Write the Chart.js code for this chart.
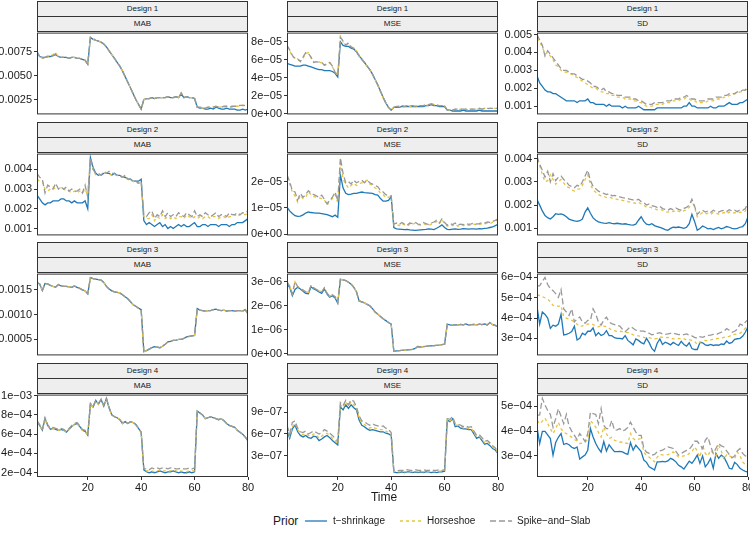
<!DOCTYPE html>
<html>
<head>
<meta charset="utf-8">
<script src="https://cdn.jsdelivr.net/npm/chart.js@4.4.1/dist/chart.umd.min.js"></script>
<style>
  body { margin: 0; width: 750px; height: 539px; position: relative; overflow: hidden; background: #fff;
         font-family: "Liberation Sans", Arial, sans-serif; }
  .strip { position: absolute; box-sizing: border-box; background: #EEEEEE; border: 1px solid #333;
           color: #1a1a1a; font-size: 8px; text-align: center; }
  canvas { position: absolute; }
  .txt { position: absolute; color: #1a1a1a; white-space: nowrap; }
</style>
</head>
<body>
<script>
// x values and labels
const time = Array.from({ length: 80 }, (_, i) => i + 1);
const xTicks = [20, 40, 60, 80];
const priors = ['t−shrinkage', 'Horseshoe', 'Spike−and−Slab'];
const designs = ['Design 1', 'Design 2', 'Design 3', 'Design 4'];
const metrics = ['MAB', 'MSE', 'SD'];

// ---- Design 1 ----
// MAB, units of 1e-4
const d1MabT = [75,70,69,69,70,70,71,72,70,69, 69,69,68,69,69,68,68,67,66,62, 90,88,87,86,85,83,80,76,72,68, 64,60,55,49,43,37,31,25,20,15,
  25,26,26,27,26,27,27,27,27,28, 27,27,28,27,31,27,28,27,27,26, 17,16,16,15,15,16,15,17,16,15, 15,16,15,15,15,14,14,15,14,15];
const d1MabH = [74,70,68,70,70,71,72,74,70,69, 69,69,68,69,69,68,68,67,66,62, 90,88,87,86,85,83,80,76,72,68, 64,60,55,49,43,37,31,25,20,15,
  25,26,26,27,26,27,27,27,27,28, 27,27,28,27,32,27,28,27,27,26, 17,17,16,16,17,17,17,18,17,17, 17,18,17,17,18,18,18,19,18,19];
const d1MabS = [75,70,68,69,70,70,71,73,70,69, 69,69,68,69,69,68,68,67,66,62, 90,89,87,86,85,83,80,76,72,68, 64,60,55,49,43,37,31,25,20,15,
  25,26,26,27,26,27,27,27,27,28, 27,27,28,27,32,27,28,27,27,26, 17,17,17,16,17,17,17,18,17,17, 18,18,17,18,18,18,19,19,19,20];
// MSE, units of 1e-6
const d1MseT = [56,55,54,53,53,53,54,54,53,52, 51,50,49,49,48,48,48,47,45,41, 80,76,75,75,73,72,69,64,61,57, 53,49,44,38,32,25,18,12,7,4,
  7,7,7,8,8,8,8,8,8,8, 8,8,9,9,10,9,9,8,8,8, 4,4,3,3,3,3,4,3,3,3, 3,3,4,3,3,3,3,3,3,3];
const d1MseH = [75,70,64,62,60,59,62,67,68,62, 58,57,58,56,54,55,57,52,47,42, 86,80,77,78,75,72,70,65,61,57, 53,49,44,38,32,25,18,12,7,4,
  7,8,8,8,8,9,8,9,8,9, 9,9,9,10,11,10,9,9,9,9, 4,4,4,5,4,5,5,5,4,5, 5,5,5,5,6,5,6,6,6,6];
const d1MseS = [76,71,65,61,61,58,63,68,67,63, 57,58,57,57,54,56,57,53,46,42, 85,81,76,79,74,73,69,65,60,57, 53,49,44,38,32,25,18,12,7,4,
  7,8,8,9,8,9,9,9,8,9, 9,9,10,10,11,10,10,9,9,9, 4,5,4,5,5,5,5,5,5,5, 5,5,6,5,6,6,6,6,6,6];
// SD, units of 1e-4
const d1SdT = [27,23,21,19,18,18,17,17,16,15, 14,13,13,13,13,12,13,13,13,14, 12,12,11,11,11,11,10,11,10,10, 10,10,9,10,9,9,9,9,10,9,
  8,8,8,8,8,9,9,9,9,9, 9,9,9,9,9,10,10,12,10,10, 9,9,9,9,9,10,9,9,10,10, 10,11,12,11,11,11,12,12,13,14];
const d1SdH = [48,46,43,39,40,38,36,33,32,30, 29,29,28,28,27,26,25,24,23,22, 21,20,20,19,18,18,17,17,16,16, 15,15,15,14,14,14,13,13,12,12,
  11,10,10,10,11,11,11,11,12,12, 12,13,13,13,14,14,15,14,13,13, 12,12,12,12,13,13,13,14,14,14, 15,15,16,16,17,17,18,18,19,20];
const d1SdS = [50,47,44,38,41,39,37,35,33,31, 30,30,29,28,28,27,26,25,25,24, 23,21,21,20,19,20,18,18,17,17, 16,16,16,15,15,15,14,14,13,13,
  12,11,11,11,12,12,12,12,13,13, 13,14,14,14,15,15,16,15,14,14, 13,13,13,13,14,14,14,15,15,15, 16,16,17,17,17,18,18,19,19,21];

// ---- Design 2 ----
// MAB, units of 1e-4
const d2MabT = [27,25,23,22,23,23,24,24,24,25, 25,24,24,23,24,23,23,23,24,20, 46,41,38,37,37,38,38,38,37,38, 37,37,36,36,35,35,34,34,34,35,
  14,12,13,12,11,12,13,11,12,10, 11,10,11,12,11,12,11,11,12,13, 11,11,12,12,11,12,12,12,11,12, 12,12,11,12,12,13,13,13,14,15];
const d2MabH = [35,34,34,30,29,30,31,30,30,31, 30,29,29,28,29,28,29,28,30,27, 45,40,37,37,37,38,38,38,37,37, 37,36,36,36,35,34,34,33,33,33,
  16,15,15,17,14,16,15,17,15,16, 15,16,15,16,16,15,17,16,15,16, 15,16,15,16,16,15,16,16,15,16, 16,15,16,16,17,16,17,17,17,18];
const d2MabS = [38,36,35,28,32,31,30,33,30,31, 30,31,29,30,29,29,30,28,32,26, 46,40,38,38,37,39,38,39,38,38, 37,37,36,37,35,35,34,34,33,34,
  17,16,18,19,15,17,16,19,16,18, 16,17,16,18,17,16,18,17,16,19, 16,17,16,18,17,16,17,18,16,17, 17,16,18,17,17,18,17,18,18,19];
// MSE, units of 1e-7
const d2MseT = [103,88,78,70,67,68,73,80,84,82, 81,80,80,78,76,74,70,66,72,64, 225,175,155,150,152,155,155,158,160,158, 157,156,155,150,148,135,125,125,128,142,
  25,20,19,18,17,18,16,15,14,15, 16,17,18,20,19,17,22,28,35,25, 18,17,19,20,18,19,21,20,19,20, 20,19,21,20,22,23,25,27,32,37];
const d2MseH = [215,190,160,145,122,148,135,140,160,150, 142,140,138,135,130,110,125,135,150,120, 270,210,190,175,185,193,185,192,195,200, 205,190,185,175,170,155,150,138,140,142,
  35,38,32,40,35,30,38,36,42,35, 34,40,36,33,38,42,48,38,55,40, 30,35,32,38,30,34,32,36,33,35, 38,34,36,40,38,42,40,45,48,55];
const d2MseS = [225,200,165,160,130,155,140,150,165,155, 150,145,140,148,132,115,130,140,160,125, 290,230,195,200,190,205,195,200,205,195, 205,195,190,185,180,165,160,150,145,145,
  38,42,36,44,38,34,42,40,45,38, 37,44,40,36,42,46,52,42,58,44, 34,40,36,42,34,38,36,40,37,39, 42,38,40,44,42,46,44,48,52,58];
// SD, units of 1e-5
const d2SdT = [224,200,175,155,146,140,150,163,160,162, 158,150,140,136,132,130,133,140,170,188, 165,145,135,128,125,123,122,125,122,120, 122,120,118,120,117,115,114,118,135,150,
  130,118,115,120,112,108,104,100,95,92, 100,105,104,106,103,100,105,120,160,130, 92,100,110,105,98,100,95,100,104,98, 102,108,105,100,98,100,105,108,120,150];
const d2SdH = [393,370,330,300,305,330,310,290,300,310, 295,280,275,265,260,268,270,285,310,330, 290,265,255,245,240,238,232,235,230,228, 225,222,220,218,215,212,210,208,212,205,
  200,190,192,188,185,180,182,178,172,170, 175,172,178,174,170,176,180,190,220,190, 150,160,168,162,165,160,168,165,162,165, 168,162,170,166,168,165,170,168,175,200];
const d2SdS = [410,375,350,320,345,300,335,305,320,325, 310,300,285,280,275,285,280,300,325,350, 305,280,270,260,255,250,245,250,240,242, 238,235,232,230,228,225,222,220,225,215,
  210,200,205,198,195,190,195,185,182,178, 185,180,188,182,178,186,190,200,225,195, 160,172,178,170,175,168,178,172,170,175, 178,172,180,175,178,172,180,178,185,210];

// ---- Design 3 ----
// MAB, units of 1e-5 (the three priors coincide)
const d3MabT = [165,162,149,163,162,159,157,156,161,158, 157,157,156,155,158,155,153,150,148,142, 175,173,172,171,170,165,157,152,148,146, 145,144,140,136,132,126,120,117,113,110,
  25,27,30,33,35,34,33,36,40,45, 46,48,48,50,50,52,55,56,57,58, 112,109,108,107,108,108,110,111,109,108, 109,107,108,108,107,108,108,107,110,101];
const d3MabH = d3MabT;
const d3MabS = d3MabT;
// MSE, units of 1e-8
const d3MseT = [290,277,242,268,277,270,260,252,250,279, 270,265,258,252,270,248,236,242,232,210, 310,308,305,298,290,277,258,220,216,212, 206,200,188,174,165,155,146,138,130,123,
  10,12,13,14,15,16,17,18,22,30, 28,30,31,33,33,34,35,36,38,40, 123,120,118,121,119,122,120,124,119,121, 122,120,123,121,124,120,130,121,118,112];
const d3MseS = [300,282,250,300,280,272,265,258,255,285, 275,268,262,258,275,252,240,246,238,215, 310,308,305,298,290,277,258,220,216,212, 206,200,188,174,165,155,146,138,130,123,
  10,12,13,14,15,16,17,18,22,30, 28,30,31,33,33,34,35,36,38,40, 123,120,118,121,119,122,120,124,119,121, 122,120,123,121,124,120,130,121,118,112];
const d3MseH = d3MseS;
// SD, units of 1e-6
const d3SdT = [457,370,430,418,400,349,365,360,370,418, 317,320,325,333,360,292,300,325,317,335, 335,352,313,328,314,320,338,314,313,303, 300,300,297,313,290,279,268,297,290,279,
  273,300,279,250,236,276,297,270,281,275, 268,280,272,265,285,270,262,278,250,245, 245,280,278,268,265,270,265,268,266,272, 270,287,275,280,295,298,300,310,330,357];
const d3SdH = [515,510,505,500,494,480,462,460,458,462, 405,400,395,389,380,370,357,362,365,370, 373,368,360,357,362,360,358,350,340,338, 333,335,333,330,328,325,317,315,312,310,
  305,300,303,300,298,300,308,305,303,305, 300,298,297,300,296,298,292,294,290,285, 270,282,286,290,288,292,295,298,300,302, 305,308,310,317,320,322,325,335,350,370];
const d3SdS = [559,559,580,600,565,545,535,520,502,540, 445,430,413,445,381,395,405,380,375,389, 389,445,420,380,365,390,405,380,373,368, 365,360,345,333,345,357,350,340,338,336,
  336,330,325,317,320,325,328,322,320,322, 325,326,322,318,320,318,322,316,312,305, 300,308,305,310,315,316,320,318,325,330, 335,348,340,330,335,345,370,365,380,392];

// ---- Design 4 ----
// MAB, units of 1e-5
const d4MabT = [73,69,64,76,69,65,66,65,64,65, 64,62,65,68,70,71,68,64,63,59, 91,88,95,91,96,89,97,87,80,78, 77,75,71,73,71,73,72,70,66,62,
  23,21,20,21,20,21,22,21,20,21, 21,22,21,20,21,20,20,21,20,21, 84,82,80,76,77,78,77,76,75,76, 74,71,69,68,67,64,62,60,57,53];
const d4MabH = [73,69,64,76,69,65,66,65,64,65, 64,62,65,68,70,71,68,64,63,59, 91,88,95,91,96,89,97,87,80,78, 77,75,71,73,71,73,72,70,66,62,
  23,22,22,22,21,22,23,22,22,22, 22,23,22,21,22,21,21,22,22,22, 84,82,80,76,77,78,77,76,75,76, 74,71,69,68,67,64,62,60,57,53];
const d4MabS = [74,70,65,77,70,66,67,66,65,66, 65,63,66,69,71,72,69,65,64,60, 92,89,95,92,96,90,97,88,80,78, 77,75,72,73,71,73,72,70,66,62,
  24,24,23,25,24,25,24,25,25,24, 25,25,24,24,25,24,24,25,24,25, 84,82,80,76,77,78,77,76,75,76, 74,71,69,68,67,64,62,60,57,53];
// MSE, units of 1e-8
const d4MseT = [65,54,67,72,63,58,56,58,55,54, 57,56,51,53,56,58,55,51,48,45, 97,93,100,95,100,96,93,79,72,70, 67,65,66,65,64,63,63,61,60,58,
  8,7,7,8,7,8,8,7,8,7, 8,7,8,8,7,8,7,8,8,9, 79,77,81,70,71,68,67,67,66,66, 60,54,56,51,46,47,44,40,38,33];
const d4MseH = [68,57,70,75,66,61,59,61,58,57, 60,59,54,57,60,61,58,54,51,47, 100,96,104,98,104,100,96,82,75,73, 70,68,70,68,67,66,66,64,62,60,
  9,8,8,9,8,9,9,8,9,8, 9,8,9,9,8,9,8,9,9,10, 80,78,82,72,72,70,68,69,67,68, 62,56,57,53,48,49,46,42,40,34];
const d4MseS = [72,60,76,78,68,63,62,64,60,62, 64,62,60,62,66,64,61,58,54,50, 103,99,106,100,107,105,97,85,78,77, 74,72,74,72,71,70,71,68,66,62,
  10,9,10,10,10,11,10,10,11,10, 10,11,10,10,11,10,10,11,10,11, 81,80,84,74,73,72,70,71,69,70, 64,58,59,55,50,51,48,44,41,35];
// SD, units of 1e-6
const d4SdT = [416,350,399,399,385,370,303,354,375,390, 346,350,345,335,330,336,287,296,303,323, 410,376,350,330,315,358,320,345,330,317, 317,318,316,310,306,354,323,343,330,317,
  283,274,256,250,243,276,276,278,276,280, 290,285,276,262,256,247,263,279,270,285, 303,270,300,256,270,290,250,310,290,303, 295,274,250,247,274,265,250,243,238,235];
const d4SdH = [443,430,440,452,430,410,390,410,435,410, 395,390,383,375,366,360,350,352,356,365, 443,430,416,395,376,416,390,370,375,363, 360,356,355,352,350,390,370,363,368,370,
  315,300,295,285,276,295,306,304,303,305, 310,316,305,296,298,300,302,310,316,336, 320,295,343,310,300,323,310,300,343,320, 285,305,300,295,290,316,300,276,265,256];
const d4SdS = [463,465,532,505,483,467,416,450,490,460, 430,467,420,400,383,366,390,375,358,390, 476,470,467,430,490,423,410,410,443,403, 405,410,400,405,415,436,416,396,383,383,
  330,315,310,303,306,316,320,323,330,336, 333,330,318,303,310,316,322,326,340,359, 359,345,330,363,376,340,310,330,350,340, 336,320,305,292,300,320,330,310,300,296];

// y tick positions (panel units) and their labels
const d1MabTicks = [25, 50, 75],            d1MabLabels = ['0.0025', '0.0050', '0.0075'];
const d1MseTicks = [0, 20, 40, 60, 80],     d1MseLabels = ['0e+00', '2e−05', '4e−05', '6e−05', '8e−05'];
const d1SdTicks = [10, 20, 30, 40, 50],     d1SdLabels = ['0.001', '0.002', '0.003', '0.004', '0.005'];
const d2MabTicks = [10, 20, 30, 40],        d2MabLabels = ['0.001', '0.002', '0.003', '0.004'];
const d2MseTicks = [0, 100, 200],           d2MseLabels = ['0e+00', '1e−05', '2e−05'];
const d2SdTicks = [100, 200, 300, 400],     d2SdLabels = ['0.001', '0.002', '0.003', '0.004'];
const d3MabTicks = [50, 100, 150],          d3MabLabels = ['0.0005', '0.0010', '0.0015'];
const d3MseTicks = [0, 100, 200, 300],      d3MseLabels = ['0e+00', '1e−06', '2e−06', '3e−06'];
const d3SdTicks = [300, 400, 500, 600],     d3SdLabels = ['3e−04', '4e−04', '5e−04', '6e−04'];
const d4MabTicks = [20, 40, 60, 80, 100],   d4MabLabels = ['2e−04', '4e−04', '6e−04', '8e−04', '1e−03'];
const d4MseTicks = [30, 60, 90],            d4MseLabels = ['3e−07', '6e−07', '9e−07'];
const d4SdTicks = [300, 400, 500],          d4SdLabels = ['3e−04', '4e−04', '5e−04'];

const panels = [
  { s: [d1MabT, d1MabH, d1MabS], min: 9.5, max: 95,   ticks: d1MabTicks, labels: d1MabLabels },
  { s: [d1MseT, d1MseH, d1MseS], min: -0.8, max: 90.3, ticks: d1MseTicks, labels: d1MseLabels },
  { s: [d1SdT, d1SdH, d1SdS],    min: 5.4, max: 51.1,  ticks: d1SdTicks,  labels: d1SdLabels },
  { s: [d2MabT, d2MabH, d2MabS], min: 6.5, max: 48,    ticks: d2MabTicks, labels: d2MabLabels },
  { s: [d2MseT, d2MseH, d2MseS], min: -5, max: 306,    ticks: d2MseTicks, labels: d2MseLabels },
  { s: [d2SdT, d2SdH, d2SdS],    min: 70, max: 421,    ticks: d2SdTicks,  labels: d2SdLabels },
  { s: [d3MabT, d3MabH, d3MabS], min: 17.4, max: 183,  ticks: d3MabTicks, labels: d3MabLabels },
  { s: [d3MseT, d3MseH, d3MseS], min: -7, max: 334,    ticks: d3MseTicks, labels: d3MseLabels },
  { s: [d3SdT, d3SdH, d3SdS],    min: 216, max: 619,   ticks: d3SdTicks,  labels: d3SdLabels },
  { s: [d4MabT, d4MabH, d4MabS], min: 15.6, max: 101,  ticks: d4MabTicks, labels: d4MabLabels },
  { s: [d4MseT, d4MseH, d4MseS], min: 1, max: 114,     ticks: d4MseTicks, labels: d4MseLabels },
  { s: [d4SdT, d4SdH, d4SdS],    min: 215, max: 547,   ticks: d4SdTicks,  labels: d4SdLabels }
];

// layout
const FONT = '"Liberation Sans", Arial, sans-serif';
const INK = '#1a1a1a';
const COLORS = ['#1F78B8', '#E8C33F', '#999999'];
const DASHES = [[], [3, 3], [6, 3]];
const plotLeft = [37, 287, 537];
const axW = [37, 50, 50];
const rowTop = [1, 122, 242, 363];
const PW = 211, PH = 83, SH = 16;

function addStrip(text, left, top) {
  const d = document.createElement('div');
  d.className = 'strip';
  Object.assign(d.style, { left: left + 'px', top: top + 'px', width: PW + 'px', height: SH + 'px', lineHeight: (SH - 2) + 'px' });
  d.textContent = text;
  document.body.appendChild(d);
}

const frame = {
  id: 'frame',
  afterDatasetsDraw(chart) {
    const a = chart.chartArea, ctx = chart.ctx;
    ctx.save();
    ctx.strokeStyle = '#333';
    ctx.lineWidth = 1;
    ctx.strokeRect(a.left + 0.5, a.top + 0.5, a.right - a.left - 1, a.bottom - a.top - 1);
    ctx.restore();
  }
};

const pts = vals => time.map((t, i) => ({ x: t, y: vals[i] }));

panels.forEach((p, k) => {
  const row = Math.floor(k / 3), col = k % 3, last = row === 3;
  const top = rowTop[row];
  addStrip(designs[row], plotLeft[col], top);
  addStrip(metrics[col], plotLeft[col], top + SH - 1);

  const cv = document.createElement('canvas');
  const w = axW[col] + PW + 10, h = 8 + PH + (last ? 20 : 8);
  cv.width = w; cv.height = h;
  Object.assign(cv.style, { left: (plotLeft[col] - axW[col]) + 'px', top: (top + 2 * SH - 1 - 8) + 'px', width: w + 'px', height: h + 'px' });
  document.body.appendChild(cv);

  const axisGrid = { drawOnChartArea: false, drawTicks: true, tickLength: 3, color: '#333', lineWidth: 1 };
  new Chart(cv, {
    type: 'line',
    data: {
      datasets: [2, 1, 0].map(j => ({
        label: priors[j],
        data: pts(p.s[j]),
        borderColor: COLORS[j],
        borderDash: DASHES[j],
        borderWidth: 1.3,
        pointRadius: 0,
        tension: 0,
        fill: false
      }))
    },
    options: {
      responsive: false,
      animation: false,
      devicePixelRatio: 1,
      layout: { padding: { left: 0, top: 8, right: 10, bottom: last ? 0 : 8 } },
      plugins: { legend: { display: false }, tooltip: { enabled: false } },
      scales: {
        x: {
          type: 'linear', min: 1, max: 80, display: last,
          afterBuildTicks: s => { s.ticks = xTicks.map(v => ({ value: v })); },
          afterFit: s => { if (last) s.height = 20; },
          grid: axisGrid,
          border: { display: false },
          ticks: { font: { size: 11, family: FONT }, color: INK, padding: 1, maxRotation: 0, autoSkip: false }
        },
        y: {
          min: p.min, max: p.max,
          afterBuildTicks: s => { s.ticks = p.ticks.map(v => ({ value: v })); },
          afterFit: s => { s.width = axW[col]; },
          grid: axisGrid,
          border: { display: false },
          ticks: { font: { size: 11, family: FONT }, color: INK, padding: 2, autoSkip: false,
                   callback: (v, i) => p.labels[i] }
        }
      }
    },
    plugins: [frame]
  });
});

// axis title
const t = document.createElement('div');
t.className = 'txt';
Object.assign(t.style, { left: '0px', width: '768px', textAlign: 'center', top: '490px', fontSize: '12px' });
t.textContent = 'Time';
document.body.appendChild(t);

// legend
function addText(s, left, size) {
  const d = document.createElement('div');
  d.className = 'txt';
  Object.assign(d.style, { left: left + 'px', top: (521 - size * 0.6) + 'px', fontSize: size + 'px' });
  d.textContent = s;
  document.body.appendChild(d);
}
function addKey(j, left) {
  const ns = 'http://www.w3.org/2000/svg';
  const svg = document.createElementNS(ns, 'svg');
  svg.setAttribute('width', 24); svg.setAttribute('height', 6);
  Object.assign(svg.style, { position: 'absolute', left: left + 'px', top: '518px' });
  const ln = document.createElementNS(ns, 'line');
  ln.setAttribute('x1', 1); ln.setAttribute('x2', 23); ln.setAttribute('y1', 3); ln.setAttribute('y2', 3);
  ln.setAttribute('stroke', COLORS[j]); ln.setAttribute('stroke-width', 1.3);
  if (DASHES[j].length) ln.setAttribute('stroke-dasharray', DASHES[j].join(' '));
  svg.appendChild(ln);
  document.body.appendChild(svg);
}
addText('Prior', 273, 12);
const keyX = [304, 399, 489];
const labX = [333, 427, 517];
priors.forEach((name, j) => { addKey(j, keyX[j]); addText(name, labX[j], 10); });
</script>
</body>
